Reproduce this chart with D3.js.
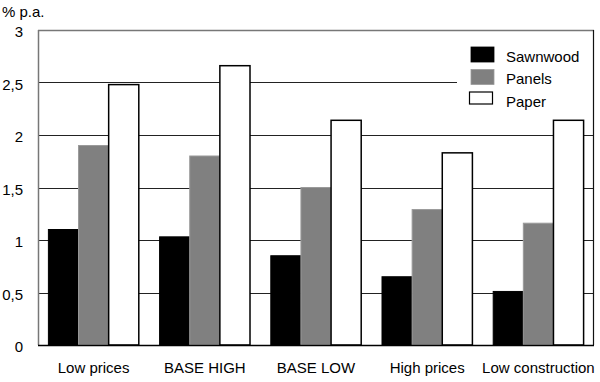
<!DOCTYPE html>
<html><head><meta charset="utf-8">
<script src="https://cdn.jsdelivr.net/npm/d3@7"></script>
<style>
html,body{margin:0;padding:0;background:#fff;}
text{font-family:"Liberation Sans",Arial,sans-serif;fill:#000;}
</style></head>
<body>
<svg id="chart" width="600" height="382"></svg>
<script>
const categories = ["Low prices","BASE HIGH","BASE LOW","High prices","Low construction"];
const seriesNames = ["Sawnwood","Panels","Paper"];
const sawnwood = [1.10, 1.03, 0.85, 0.65, 0.51];
const panels   = [1.90, 1.80, 1.50, 1.29, 1.16];
const paper    = [2.48, 2.66, 2.14, 1.83, 2.14];
const yTicks = [0, 0.5, 1, 1.5, 2, 2.5, 3];
const yTickLabels = ["0","0,5","1","1,5","2","2,5","3"];
const yTitle = "% p.a.";

(function(){
const seriesValues = [sawnwood, panels, paper];
const fills = ["#000000","#808080","#ffffff"];
const strokes = ["#000000","#9a9a9a","#000000"];

const svg = d3.select("#chart");
const mLeft = 38, mRight = 594, mTop = 30, mBottom = 345;

const y = d3.scaleLinear().domain([0,3]).range([mBottom, mTop]);
const x0 = d3.scaleBand().domain(categories).range([mLeft, mRight]).padding(0);
const x1 = d3.scaleBand().domain(seriesNames).range([10.4, x0.bandwidth()-10.4]).padding(0);

// gridlines
svg.append("g").selectAll("line").data(yTicks.filter(d=>d>0 && d<3)).join("line")
  .attr("x1", mLeft).attr("x2", mRight)
  .attr("y1", d=>Math.round(y(d))+0.5).attr("y2", d=>Math.round(y(d))+0.5)
  .attr("stroke","#222").attr("stroke-width",1);

// top frame
svg.append("line").attr("x1",mLeft).attr("x2",mRight)
  .attr("y1",Math.round(y(3))+0.5).attr("y2",Math.round(y(3))+0.5)
  .attr("stroke","#777").attr("stroke-width",1.5);

// legend background
const leg = svg.append("g");
leg.append("rect").attr("x",457).attr("y",33).attr("width",mRight-457).attr("height",78).attr("fill","#fff");

// bars
const groups = svg.append("g").selectAll("g").data(categories).join("g")
  .attr("transform", d=>`translate(${x0(d)},0)`);
groups.each(function(cat, ci){
  d3.select(this).selectAll("rect").data(seriesNames).join("rect")
    .attr("x", s=>x1(s))
    .attr("width", x1.bandwidth())
    .attr("y", (s,si)=>y(seriesValues[si][ci]))
    .attr("height", (s,si)=>y(0)-y(seriesValues[si][ci]))
    .attr("fill", (s,si)=>fills[si])
    .attr("stroke", (s,si)=>strokes[si])
    .attr("stroke-width", (s,si)=> si===2 ? 1.5 : 1);
});

// frame
svg.append("line").attr("x1",mLeft+0.5).attr("x2",mLeft+0.5).attr("y1",y(3)).attr("y2",y(0))
  .attr("stroke","#777").attr("stroke-width",1.5);
svg.append("line").attr("x1",mRight-0.5).attr("x2",mRight-0.5).attr("y1",y(3)).attr("y2",y(0))
  .attr("stroke","#111").attr("stroke-width",1.2);
svg.append("line").attr("x1",mLeft).attr("x2",mRight).attr("y1",y(0)+0.5).attr("y2",y(0)+0.5)
  .attr("stroke","#000").attr("stroke-width",1.5);

// y axis labels
const yAxis = d3.axisLeft(y).tickValues(yTicks).tickFormat((d,i)=>yTickLabels[i]).tickSize(0).tickPadding(0);
const ya = svg.append("g").attr("transform",`translate(23,0)`).call(yAxis);
ya.select(".domain").remove();
ya.selectAll("text").attr("font-size",15).attr("font-family","Liberation Sans, Arial, sans-serif").attr("dy","0.45em").attr("fill","#000");

// x axis labels
const xAxis = d3.axisBottom(x0).tickSize(0).tickPadding(0);
const xa = svg.append("g").attr("transform",`translate(0,373)`).call(xAxis);
xa.select(".domain").remove();
xa.selectAll("text").attr("font-size",15).attr("font-family","Liberation Sans, Arial, sans-serif").attr("dy","0").attr("fill","#000");

// y title
svg.append("text").attr("x",2).attr("y",17).attr("font-size",15).text(yTitle);

// legend items
seriesNames.forEach((s,i)=>{
  const yy = 47 + i*22.5;
  leg.append("rect").attr("x", i===2?469.5:471).attr("y", yy).attr("width", 23).attr("height", i===2?12:15)
    .attr("fill", fills[i]).attr("stroke", strokes[i]).attr("stroke-width", i===2?1.2:0.8);
  leg.append("text").attr("x",506).attr("y",yy+14.5).attr("font-size",15).text(s);
});
})();
</script>
</body></html>
